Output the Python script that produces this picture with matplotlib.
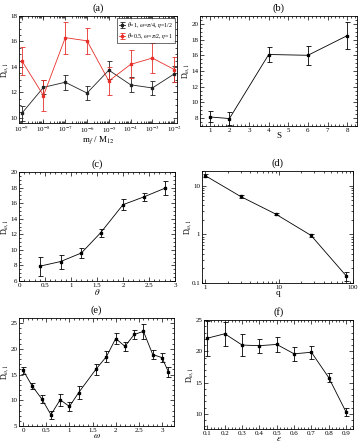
import matplotlib
matplotlib.use("Agg")
import matplotlib.pyplot as plt
from matplotlib.ticker import AutoMinorLocator, LogLocator, NullFormatter

plt.rcParams["font.family"] = ["Liberation Serif", "DejaVu Serif"]
plt.rcParams["mathtext.fontset"] = "stix"

# (a) D vs m_f / M_12
a_x = [1e-9, 1e-8, 1e-7, 1e-6, 1e-5, 1e-4, 1e-3, 1e-2]
a_black = [10.35, 12.4, 12.8, 11.95, 13.75, 12.6, 12.35, 13.45]
a_black_err = [0.6, 0.55, 0.6, 0.55, 0.7, 0.6, 0.55, 0.6]
a_red = [14.5, 11.75, 16.3, 16.05, 12.9, 14.2, 14.7, 13.8]
a_red_err = [1.1, 1.2, 1.25, 1.0, 1.1, 1.1, 1.2, 1.0]
a_ticklabels = [r"10$^{-9}$", r"10$^{-8}$", r"10$^{-7}$", r"10$^{-6}$",
                r"10$^{-5}$", r"10$^{-4}$", r"10$^{-3}$", r"10$^{-2}$"]

# (b) D vs S
b_x = [1, 2, 4, 6, 8]
b_y = [8.15, 7.95, 16.1, 16.0, 18.5]
b_err = [0.7, 0.8, 1.0, 1.2, 1.7]

# (c) D vs theta
c_x = [0.4, 0.8, 1.2, 1.57, 2.0, 2.4, 2.8]
c_y = [7.9, 8.5, 9.6, 12.2, 15.8, 16.8, 17.9]
c_err = [1.2, 0.9, 0.6, 0.5, 0.7, 0.5, 0.9]

# (d) D vs q (log-log)
d_x = [1, 3, 9, 27, 81]
d_y = [16.0, 6.0, 2.6, 0.95, 0.14]
d_err = [1.0, 0.3, 0.15, 0.08, 0.03]

# (e) D vs omega
e_x = [0, 0.2, 0.4, 0.6, 0.8, 1.0, 1.2, 1.57, 1.8, 2.0, 2.2, 2.4, 2.6, 2.8, 3.0, 3.14]
e_y = [15.8, 12.7, 10.3, 7.2, 10.1, 8.8, 11.5, 16.0, 18.5, 22.0, 20.5, 22.8, 23.4, 18.9, 18.3, 15.5]
e_err = [0.7, 0.6, 0.8, 0.8, 1.2, 0.8, 1.2, 1.1, 1.0, 1.0, 0.9, 0.9, 1.5, 0.9, 0.8, 1.0]

# (f) D vs epsilon
f_x = [0.1, 0.2, 0.3, 0.4, 0.5, 0.6, 0.7, 0.8, 0.9]
f_y = [22.1, 22.8, 21.0, 20.9, 21.1, 19.6, 19.85, 15.8, 10.3]
f_err = [2.8, 1.9, 1.8, 1.1, 1.2, 1.1, 1.0, 0.7, 0.6]

W, H = 362, 443
TICK_FS = 5
LABEL_FS = 6.5


def make_axes(fig, left, right, top, bottom):
    return fig.add_axes([left / W, 1 - bottom / H, (right - left) / W, (bottom - top) / H])


def style(ax, title, xlabel, minor=True):
    ax.set_title(title, fontsize=7.5, pad=4)
    ax.set_xlabel(xlabel, fontsize=LABEL_FS, labelpad=-0.5)
    ax.set_ylabel(r"D$_{\omega,1}$", fontsize=5.8)
    ax.yaxis.set_label_coords(-0.052, 0.5)
    ax.tick_params(which="both", direction="in", top=True, right=True,
                   labelsize=TICK_FS, pad=1.2, width=0.5)
    ax.tick_params(which="major", length=3)
    ax.tick_params(which="minor", length=1.5)
    if minor:
        ax.xaxis.set_minor_locator(AutoMinorLocator())
        ax.yaxis.set_minor_locator(AutoMinorLocator())
    for s in ax.spines.values():
        s.set_linewidth(0.6)


def draw(ax, x, y, err, color="black", label=None):
    ax.errorbar(x, y, yerr=err, color=color, marker="s", markersize=1.8,
                linewidth=0.6, elinewidth=0.6, capsize=1.8, capthick=0.6,
                label=label)


fig = plt.figure(figsize=(W / 100, H / 100), dpi=100)

# (a)
ax = make_axes(fig, 19, 177, 16, 123)
draw(ax, a_x, a_black, a_black_err, "#222222", r"$\theta$=1, $\omega$=$\pi$/4, $\eta$=1/2")
draw(ax, a_x, a_red, a_red_err, "#e8302a", r"$\theta$=0.5, $\omega$=$\pi$/2, $\eta$=1")
ax.set_xscale("log")
ax.set_xlim(0.75e-9, 1.35e-2)
ax.set_ylim(9.6, 18)
ax.set_yticks([10, 12, 14, 16, 18])
style(ax, "(a)", r"m$_f$ / M$_{12}$", minor=False)
ax.yaxis.set_minor_locator(AutoMinorLocator())
ax.set_xticks(a_x)
ax.set_xticklabels(a_ticklabels)
ax.xaxis.set_minor_locator(LogLocator(base=10, subs=range(2, 10), numticks=20))
ax.xaxis.set_minor_formatter(NullFormatter())
ax.legend(loc="upper right", fontsize=4.3, frameon=True, fancybox=False,
          edgecolor="black", handlelength=1.0, borderpad=0.3, labelspacing=0.1,
          handletextpad=0.3, borderaxespad=0.4).get_frame().set_linewidth(0.5)

# (b)
ax = make_axes(fig, 200, 357, 16, 126)
draw(ax, b_x, b_y, b_err)
ax.set_xlim(0.5, 8.5)
ax.set_ylim(7, 21)
ax.set_xticks(range(1, 9))
ax.set_yticks([8, 10, 12, 14, 16, 18, 20])
style(ax, "(b)", "S")

# (c)
ax = make_axes(fig, 19, 175, 172, 281)
draw(ax, c_x, c_y, c_err)
ax.set_xlim(0, 3)
ax.set_ylim(6, 20)
ax.set_xticks([0, 0.5, 1, 1.5, 2, 2.5, 3])
ax.set_xticklabels(["0", "0.5", "1", "1.5", "2", "2.5", "3"])
style(ax, "(c)", r"$\theta$")

# (d)
ax = make_axes(fig, 202, 353, 171, 283)
draw(ax, d_x, d_y, d_err)
ax.set_xscale("log")
ax.set_yscale("log")
ax.set_xlim(0.9, 100)
ax.set_ylim(0.1, 20)
style(ax, "(d)", "q", minor=False)
ax.set_xticks([1, 10, 100])
ax.set_xticklabels(["1", "10", "100"])
ax.set_yticks([0.1, 1, 10])
ax.set_yticklabels(["0.1", "1", "10"])
for axis in (ax.xaxis, ax.yaxis):
    axis.set_minor_locator(LogLocator(base=10, subs=range(2, 10), numticks=20))
    axis.set_minor_formatter(NullFormatter())

# (e)
ax = make_axes(fig, 19, 174, 318, 426)
draw(ax, e_x, e_y, e_err)
ax.set_xlim(-0.09, 3.26)
ax.set_ylim(5, 26)
ax.set_xticks([0, 0.5, 1, 1.5, 2, 2.5, 3])
ax.set_xticklabels(["0", "0.5", "1", "1.5", "2", "2.5", "3"])
ax.set_yticks([5, 10, 15, 20, 25])
style(ax, "(e)", r"$\omega$")

# (f)
ax = make_axes(fig, 204, 353, 320, 429)
draw(ax, f_x, f_y, f_err)
ax.set_xlim(0.08, 0.94)
ax.set_ylim(7.6, 25)
ax.set_xticks(f_x)
ax.set_yticks([10, 15, 20, 25])
style(ax, "(f)", r"$\epsilon$")

fig.savefig("out.png", dpi=100)
